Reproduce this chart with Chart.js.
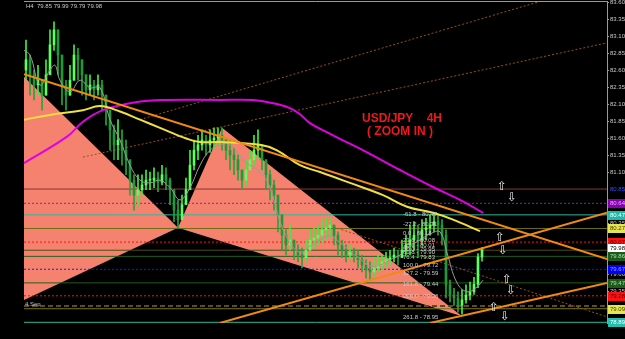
<!DOCTYPE html>
<html>
<head>
<meta charset="utf-8">
<script src="https://cdn.jsdelivr.net/npm/chart.js@4.4.0/dist/chart.umd.min.js"></script>
<style>
  html, body { margin: 0; padding: 0; background: #000; }
</style>
</head>
<body>
<canvas id="chart" width="625" height="339"></canvas>
<script>
// USDJPY H4 candles, one per bar (x = bar index)
const firstOpen = 82.60;
const closes = [
  82.75, 82.53, 82.38, 82.45, 82.23, 82.53, 82.97, 83.19, 82.82, 82.38,
  82.23, 82.45, 82.82, 82.75, 82.53, 82.31, 82.38, 82.31, 82.38, 82.23,
  82.01, 81.72, 81.50, 81.57, 81.42, 81.28, 80.98, 80.76, 80.84, 80.91,
  80.98, 80.98, 81.01, 80.95, 81.06, 80.98, 80.84, 80.54, 80.40, 80.62,
  80.84, 81.20, 81.42, 81.50, 81.57, 81.50, 81.57, 81.60, 81.64, 81.57,
  81.42, 81.35, 81.28, 81.13, 80.98, 81.13, 81.28, 81.42, 81.50, 81.28,
  81.06, 80.91, 80.76, 80.47, 80.17, 80.03, 80.10, 79.95, 79.88, 79.84,
  79.95, 80.10, 80.13, 80.17, 80.25, 80.28, 80.32, 80.17, 80.03, 79.95,
  79.88, 79.92, 79.88, 79.81, 79.73, 79.66, 79.63, 79.69, 79.73, 79.78,
  79.81, 79.84, 79.88, 79.84, 79.95, 80.03, 80.10, 80.17, 80.10, 80.25,
  80.28, 80.32, 80.37, 80.32, 80.17, 79.44, 79.29, 79.25, 79.14, 79.22,
  79.29, 79.34, 79.45, 79.85, 79.98
];
const highs = [
  83.04, 82.82, 82.60, 82.67, 82.45, 82.75, 83.19, 83.31, 83.12, 82.75,
  82.45, 82.67, 82.97, 82.92, 82.67, 82.45, 82.53, 82.45, 82.53, 82.45,
  82.23, 82.01, 81.79, 81.87, 81.72, 81.57, 81.20, 81.06, 81.06, 81.06,
  81.13, 81.10, 81.16, 81.10, 81.20, 81.16, 81.01, 80.84, 80.69, 80.76,
  81.01, 81.42, 81.57, 81.64, 81.72, 81.64, 81.72, 81.75, 81.75, 81.75,
  81.60, 81.57, 81.45, 81.35, 81.13, 81.28, 81.42, 81.64, 81.72, 81.50,
  81.28, 81.13, 80.98, 80.76, 80.47, 80.25, 80.32, 80.10, 80.03, 79.98,
  80.10, 80.25, 80.28, 80.32, 80.40, 80.42, 80.42, 80.32, 80.22, 80.10,
  80.03, 80.03, 79.98, 79.95, 79.88, 79.81, 79.78, 79.84, 79.88, 79.88,
  79.92, 79.95, 79.98, 79.95, 80.10, 80.17, 80.32, 80.37, 80.32, 80.40,
  80.42, 80.47, 80.48, 80.47, 80.40, 80.25, 79.51, 79.39, 79.34, 79.37,
  79.44, 79.48, 79.55, 79.90, 79.99
];
const lows = [
  82.45, 82.23, 82.16, 82.23, 82.01, 82.23, 82.60, 82.89, 82.53, 82.09,
  82.01, 82.23, 82.53, 82.45, 82.23, 82.16, 82.23, 82.16, 82.23, 82.01,
  81.79, 81.42, 81.28, 81.28, 81.20, 81.06, 80.76, 80.54, 80.62, 80.76,
  80.84, 80.84, 80.87, 80.81, 80.91, 80.84, 80.62, 80.37, 80.28, 80.40,
  80.62, 80.91, 81.13, 81.28, 81.42, 81.35, 81.39, 81.45, 81.50, 81.42,
  81.28, 81.13, 81.06, 80.98, 80.84, 80.91, 81.13, 81.20, 81.28, 81.13,
  80.84, 80.69, 80.54, 80.22, 79.95, 79.88, 79.95, 79.81, 79.78, 79.69,
  79.78, 79.95, 79.98, 80.03, 80.07, 80.10, 80.13, 80.03, 79.88, 79.84,
  79.78, 79.81, 79.78, 79.69, 79.63, 79.54, 79.51, 79.57, 79.63, 79.66,
  79.69, 79.73, 79.78, 79.73, 79.84, 79.88, 79.88, 79.95, 79.84, 80.03,
  80.10, 80.17, 80.22, 80.17, 80.03, 79.25, 79.19, 79.14, 79.04, 79.01,
  79.17, 79.22, 79.30, 79.40, 79.79
];

// moving averages at a few bars
const fastMaX = [0, 1.5, 4, 6.5, 7.75, 9, 11.5, 14, 16.5, 19, 21.5, 24, 26.5, 29, 31.5, 34, 36.5, 39, 41.5, 44, 46.5, 49, 51.5, 55.25, 59, 61.5, 64, 66.5, 69, 71.5, 74, 76.5, 79, 81.5, 84, 86.5, 89, 91.5, 94, 96.5, 99, 101.5, 104, 105.75, 108.25, 110.75, 113.25, 114.75];
const fastMa = [82.89, 82.82, 82.38, 82.60, 82.67, 82.45, 82.28, 82.45, 82.34, 82.34, 81.87, 81.57, 81.20, 80.98, 80.94, 80.98, 80.87, 80.69, 80.87, 81.20, 81.42, 81.50, 81.50, 81.25, 81.10, 80.87, 80.37, 80.06, 79.92, 80.01, 80.10, 80.16, 80.06, 79.94, 79.82, 79.72, 79.73, 79.81, 79.88, 80.01, 80.10, 80.19, 80.22, 79.91, 79.47, 79.34, 79.41, 79.51];
const midMaX = [0, 6.5, 14.75, 19, 24, 29, 34, 40.75, 44, 49, 59, 63.25, 69, 74, 81.5, 89.75, 95.75, 102.25, 107.25, 114];
const midMa = [81.87, 81.94, 82.01, 82.07, 81.99, 81.87, 81.75, 81.59, 81.54, 81.54, 81.50, 81.42, 81.20, 81.10, 80.94, 80.76, 80.59, 80.50, 80.40, 80.23];
const slowMaX = [0, 10.75, 14.75, 19.75, 28.25, 35.75, 49, 57.25, 60.75, 64, 66.5, 69, 71.5, 77.25, 85.75, 94, 102.25, 109, 114.75];
const slowMa = [81.23, 81.62, 81.84, 82.01, 82.13, 82.16, 82.16, 82.16, 82.13, 82.09, 82.04, 81.95, 81.82, 81.64, 81.39, 81.13, 80.88, 80.69, 80.50];

// harmonic pattern wedges (bar, price)
const wedge1X = [0, 38.5, 0];
const wedge1Y = [82.50, 80.28, 79.22];
const wedge2X = [38.5, 49.5, 109.5];
const wedge2Y = [80.28, 81.75, 78.98];

// trend lines: [x1, y1, x2, y2]
const trendLines = [
  [0, 82.54, 145.75, 79.82],
  [49, 78.88, 145.75, 80.50],
  [101.5, 78.88, 145.75, 79.47]
];
const channelLines = [
  [29, 81.87, 130.25, 83.63],
  [14.75, 81.32, 145.75, 83.00],
  [76.5, 80.31, 145.75, 78.97]
];

// horizontal levels
const levelPrices = [80.85, 80.64, 80.47, 80.27, 80.07, 79.95, 79.86, 79.67, 79.47, 79.28, 79.13, 79.09, 78.89];
const levelColors = ['#8a3838', '#8a20b0', '#2cb8a0', '#6e6e14', '#ff1010', '#4e4e16', '#1f5f1f', '#1a1aff', '#1f5f1f', '#ff1010', '#5e4c1c', '#74741a', '#2cb8a0'];
const levelDash = [[], [2, 2], [], [], [2, 2], [], [], [2, 2], [], [2, 2], [5, 3], [], []];

// price boxes on the axis
const boxPrices = [80.85, 80.64, 80.47, 80.27, 80.07, 79.98, 79.86, 79.67, 79.47, 79.28, 79.09, 78.89];
const boxFill = [null, '#8a00b0', '#20b8a8', '#e6e650', '#ff1010', '#ffffff', '#1e5a1e', '#0000ff', '#1e5a1e', '#ff1010', '#e6e650', '#20c0b0'];
const boxText = ['#3050ff', '#e0b0ff', '#ffffff', '#404000', '#600000', '#000000', '#a0e0a0', '#a0a0ff', '#a0e0a0', '#600000', '#404000', '#ffffff'];

// fibo expansion labels
const fibLevels = ['-61.8', '-27.2', '0.0', '23.6', '38.2', '50.0', '61.8', '76.4', '100.0', '127.2', '161.8', '200.0', '261.8'];
const fibPrices = [80.47, 80.31, 80.18, 80.08, 80.01, 79.95, 79.90, 79.83, 79.72, 79.59, 79.44, 79.26, 78.95];
const fibBar = 94.75;

// signal arrows
const arrowX = [119.5, 122, 119, 119.75, 120.75, 121.75, 117.5, 120.25];
const arrowY = [80.88, 80.72, 80.13, 79.94, 79.51, 79.35, 79.10, 78.97];
const arrowUp = [true, false, true, false, true, false, true, false];

const yTicks = [83.60, 83.35, 83.10, 82.85, 82.60, 82.35, 82.10, 81.85, 81.60, 81.35, 81.10, 80.85, 80.60, 80.35, 80.10, 79.85, 79.60, 79.35, 79.10];

const opens = closes.map((c, i) => i === 0 ? firstOpen : closes[i - 1]);
const upBar = closes.map((c, i) => c >= opens[i]);

function seg(line) {
  return [{x: line[0], y: line[1]}, {x: line[2], y: line[3]}];
}
function pts(xs, ys) {
  return xs.map((x, i) => ({x: x, y: ys[i]}));
}

const datasets = [];

datasets.push({
  data: pts(wedge1X, wedge1Y), fill: 'shape', backgroundColor: '#f4826e',
  borderWidth: 0, pointRadius: 0, order: 30
});
datasets.push({
  data: pts(wedge2X, wedge2Y), fill: 'shape', backgroundColor: '#f4826e',
  borderWidth: 0, pointRadius: 0, order: 30
});

levelPrices.forEach((p, i) => {
  datasets.push({
    data: [{x: 0, y: p}, {x: 145.75, y: p}],
    borderColor: levelColors[i], borderWidth: i === 10 ? 2 : 1,
    borderDash: levelDash[i], pointRadius: 0, order: 25
  });
});

channelLines.forEach(l => {
  datasets.push({
    data: seg(l), borderColor: '#9a5018', borderWidth: 1,
    borderDash: [2, 2], pointRadius: 0, order: 24
  });
});

datasets.push({
  type: 'bar', grouped: false, barThickness: 1, order: 20,
  data: closes.map((c, i) => ({x: i + 0.5, y: [Math.min(lows[i], opens[i], c), Math.max(highs[i], opens[i], c)]})),
  backgroundColor: upBar.map(u => u ? '#3cf03c' : '#22a83a')
});
datasets.push({
  type: 'bar', grouped: false, barThickness: 2, minBarLength: 1, order: 19,
  data: closes.map((c, i) => ({x: i + 0.5, y: [opens[i], c]})),
  backgroundColor: upBar.map(u => u ? '#5cff5c' : '#1f9a3a')
});

datasets.push({
  data: pts(fastMaX, fastMa), borderColor: '#9a9a9a', borderWidth: 1,
  pointRadius: 0, tension: 0.4, order: 12
});
datasets.push({
  data: pts(slowMaX, slowMa), borderColor: '#e000e0', borderWidth: 2,
  pointRadius: 0, tension: 0.4, order: 11
});
datasets.push({
  data: pts(midMaX, midMa), borderColor: '#f0e040', borderWidth: 2,
  pointRadius: 0, tension: 0.4, order: 10
});

trendLines.forEach(l => {
  datasets.push({
    data: seg(l), borderColor: '#f08a10', borderWidth: 2, pointRadius: 0, order: 5
  });
});

const overlay = {
  id: 'overlay',
  afterDatasetsDraw(chart) {
    const {ctx, chartArea: a, scales: {x, y}} = chart;
    ctx.save();
    // frame top line
    ctx.strokeStyle = '#9a9a9a';
    ctx.lineWidth = 1;
    ctx.beginPath();
    ctx.moveTo(a.left, a.top + 0.5);
    ctx.lineTo(a.right, a.top + 0.5);
    ctx.stroke();

    ctx.font = '6px "Liberation Sans"';
    ctx.fillStyle = '#c8c8c8';
    ctx.textBaseline = 'middle';
    ctx.textAlign = 'left';
    ctx.fillText('H4  79.85 79.99 79.79 79.98', a.left + 2, a.top + 5);
    ctx.fillText('4.Sep', a.left + 1, y.getPixelForValue(79.16));

    // fibo labels
    ctx.textBaseline = 'bottom';
    fibLevels.forEach((lv, i) => {
      ctx.fillText(lv + ' - ' + fibPrices[i].toFixed(2), x.getPixelForValue(fibBar), y.getPixelForValue(fibPrices[i]) + 2);
    });

    // arrows
    ctx.font = '12px "DejaVu Sans"';
    ctx.fillStyle = '#e8e8e8';
    ctx.textAlign = 'center';
    ctx.textBaseline = 'middle';
    arrowX.forEach((ax, i) => {
      ctx.fillText(arrowUp[i] ? '\u21E7' : '\u21E9', x.getPixelForValue(ax), y.getPixelForValue(arrowY[i]));
    });

    // title
    ctx.font = 'bold 12px "Liberation Sans"';
    ctx.fillStyle = '#f01818';
    ctx.fillText('USD/JPY    4H', x.getPixelForValue(94.5), y.getPixelForValue(81.89));
    ctx.fillText('( ZOOM IN )', x.getPixelForValue(94), y.getPixelForValue(81.70));
    ctx.restore();
  },
  afterDraw(chart) {
    const {ctx, scales: {y}} = chart;
    ctx.save();
    ctx.font = '6px "Liberation Sans"';
    ctx.textBaseline = 'middle';
    ctx.textAlign = 'left';
    boxPrices.forEach((p, i) => {
      const py = Math.round(y.getPixelForValue(p));
      ctx.fillStyle = boxFill[i] || '#000';
      ctx.fillRect(y.left + 1, py - 4, 17, 9);
      ctx.fillStyle = boxText[i];
      ctx.fillText(p.toFixed(2), y.left + 3, py + 0.5);
    });
    ctx.restore();
  }
};

new Chart(document.getElementById('chart').getContext('2d'), {
  type: 'line',
  data: {datasets: datasets},
  options: {
    responsive: false,
    animation: false,
    layout: {padding: {left: 24, top: 1, right: 0, bottom: 16}},
    plugins: {legend: {display: false}, tooltip: {enabled: false}},
    scales: {
      x: {type: 'linear', min: 0, max: 145.75, display: false, offset: false},
      y: {
        type: 'linear', position: 'right', min: 78.88, max: 83.615,
        afterBuildTicks: s => { s.ticks = yTicks.map(v => ({value: v})); },
        afterFit: s => { s.width = 18; s.paddingTop = 0; s.paddingBottom = 0; },
        grid: {drawOnChartArea: false, color: '#9a9a9a', tickLength: 2},
        border: {color: '#9a9a9a'},
        ticks: {
          color: '#c8c8c8', padding: 1, autoSkip: false,
          font: {size: 6, family: 'Liberation Sans'},
          callback: v => v.toFixed(2)
        }
      }
    }
  },
  plugins: [overlay]
});
</script>
</body>
</html>
